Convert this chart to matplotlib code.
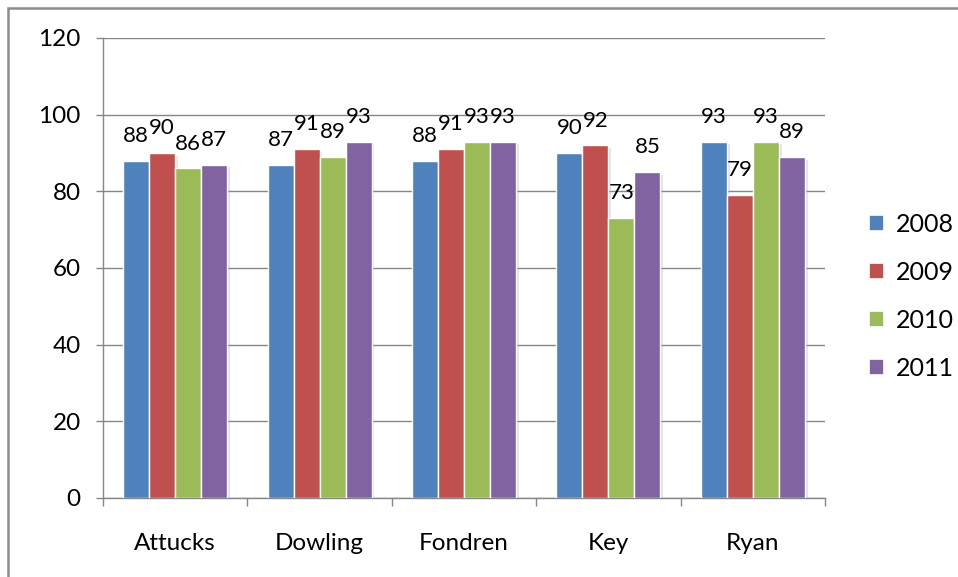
import numpy as np
import matplotlib
matplotlib.use("Agg")
import matplotlib.pyplot as plt
import matplotlib.patheffects as pe
from matplotlib.patches import Rectangle, Patch

# datos
escuelas = ["Attucks", "Dowling", "Fondren", "Key", "Ryan"]
anios = ["2008", "2009", "2010", "2011"]
v2008 = [88, 87, 88, 90, 93]
v2009 = [90, 91, 91, 92, 79]
v2010 = [86, 89, 93, 73, 93]
v2011 = [87, 93, 93, 85, 89]

colores = ["#4F81BD", "#C0504D", "#9BBB59", "#8064A2"]
GRIS = "#868686"

plt.rcParams["font.family"] = ["Lato", "DejaVu Sans"]

fig = plt.figure(figsize=(9.58, 5.77), dpi=100)
ax = fig.add_axes([103 / 958, 1 - 498 / 577, (825 - 103) / 958, (498 - 38) / 577])

# marco exterior (solo se ven el borde superior e izquierdo)
fig.patches.append(Rectangle((8 / 958, -0.05), 1.1, 1 - 8 / 577 + 0.05,
                             transform=fig.transFigure, fill=False,
                             edgecolor="#8c8c8c", linewidth=1.8))

x = np.arange(len(escuelas))
ancho = 0.18
series = [v2008, v2009, v2010, v2011]
for i, vals in enumerate(series):
    pos = x + (i - 1.5) * ancho
    barras = ax.bar(pos, vals, width=ancho, color=colores[i], edgecolor="white",
                    linewidth=1.0, zorder=3)
    for b in barras:
        b.set_path_effects([pe.SimplePatchShadow(offset=(2, -2), shadow_rgbFace="#b0b0b0", alpha=0.35),
                            pe.Normal()])
    for p, v in zip(pos, vals):
        ax.annotate(str(v), xy=(p, v), xytext=(0, 13.5), textcoords="offset points",
                    ha="center", va="baseline", fontsize=16, color="black", zorder=5)

ax.set_xlim(-0.5, len(escuelas) - 0.5)
ax.set_ylim(0, 120)
ax.set_yticks(range(0, 121, 20))
ax.yaxis.grid(True, color=GRIS, linewidth=1.0, zorder=0)
ax.set_axisbelow(True)

ax.set_xticks(x)
ax.set_xticklabels(escuelas)
ax.set_xticks(np.arange(-0.5, len(escuelas), 1.0), minor=True)
ax.tick_params(axis="x", which="major", length=0, pad=25, labelsize=17.5)
ax.tick_params(axis="x", which="minor", length=6, width=1, color=GRIS)
ax.tick_params(axis="y", length=5, width=1, color=GRIS, pad=11, labelsize=17.5)

for s in ["top", "right"]:
    ax.spines[s].set_visible(False)
for s in ["left", "bottom"]:
    ax.spines[s].set_color(GRIS)
    ax.spines[s].set_linewidth(1.0)

manejadores = [Patch(facecolor=c, edgecolor="white", linewidth=0.5) for c in colores]
fig.legend(manejadores, anios, loc="center left", bbox_to_anchor=(0.884, 0.487),
           frameon=False, fontsize=18, handlelength=0.55, handleheight=0.55,
           handletextpad=0.5, labelspacing=1.0)

fig.savefig("out.png", dpi=100)
